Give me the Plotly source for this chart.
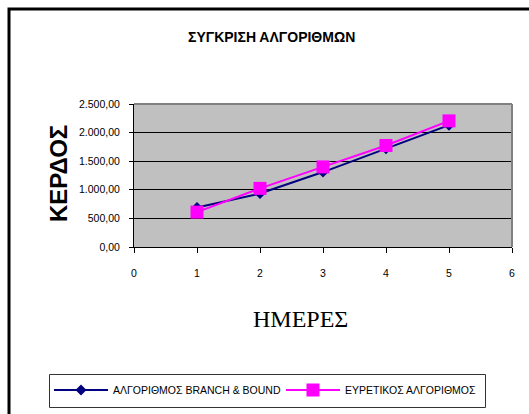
import plotly.graph_objects as go

# Days and profit for the two algorithms
days = [1, 2, 3, 4, 5]
branch_bound = [690, 935, 1310, 1720, 2130]
heuristic = [610, 1025, 1400, 1775, 2205]

series_names = ["ΑΛΓΟΡΙΘΜΟΣ BRANCH & BOUND", "ΕΥΡΕΤΙΚΟΣ ΑΛΓΟΡΙΘΜΟΣ"]
chart_title = "ΣΥΓΚΡΙΣΗ ΑΛΓΟΡΙΘΜΩΝ"
x_title = "ΗΜΕΡΕΣ"
y_title = "ΚΕΡΔΟΣ"

W, H = 529, 414
# plot area in pixels
PL, PR, PT, PB = 134, 512, 104, 247


def px(x):
    return (x - PL) / (PR - PL)


def py(y):
    return (PB - y) / (PB - PT)


fig = go.Figure()
fig.add_trace(go.Scatter(
    x=days, y=branch_bound, name=series_names[0], mode="lines+markers",
    line=dict(color="#000080", width=2),
    marker=dict(symbol="diamond", size=8.5, color="#000080"),
))
fig.add_trace(go.Scatter(
    x=days, y=heuristic, name=series_names[1], mode="lines+markers",
    line=dict(color="#FF00FF", width=2),
    marker=dict(symbol="square", size=13, color="#FF00FF"),
))

font = "Arial, Liberation Sans, sans-serif"

fig.update_layout(
    width=W, height=H,
    margin=dict(l=PL, r=W - PR, t=PT, b=H - PB, pad=0, autoexpand=False),
    paper_bgcolor="white",
    plot_bgcolor="#C0C0C0",
    separators=",.",
    font=dict(family=font, size=11, color="black"),
    showlegend=True,
    legend=dict(
        orientation="h", x=px(49), y=py(390), xanchor="left", yanchor="middle",
        borderwidth=0, bgcolor="rgba(0,0,0,0)",
        font=dict(family=font, size=10.5, color="black"),
        entrywidth=163, itemwidth=54, tracegroupgap=0,
    ),
    xaxis=dict(
        range=[0, 6], dtick=1, tick0=0, showgrid=False, zeroline=False,
        showline=True, linecolor="black", linewidth=1,
        ticks="outside", ticklen=5, tickcolor="black", ticklabelstandoff=11,
        tickfont=dict(size=10.5),
    ),
    yaxis=dict(
        range=[0, 2500], dtick=500, tick0=0, tickformat=",.2f",
        showgrid=True, gridcolor="black", gridwidth=1, zeroline=False,
        showline=True, linecolor="black", linewidth=1,
        ticks="outside", ticklen=4, tickcolor="black", ticklabelstandoff=7,
        tickfont=dict(size=10.5),
    ),
    annotations=[
        dict(text="<b>" + chart_title + "</b>", x=px(271), y=py(37),
             xref="paper", yref="paper", showarrow=False,
             xanchor="center", yanchor="middle",
             font=dict(family=font, size=14, color="black")),
        dict(text=x_title, x=px(300), y=py(319),
             xref="paper", yref="paper", showarrow=False,
             xanchor="center", yanchor="middle",
             font=dict(family="Times New Roman, Liberation Serif, serif", size=24, color="black")),
        dict(text="<b>" + y_title + "</b>", x=px(58), y=py(174),
             xref="paper", yref="paper", showarrow=False, textangle=-90,
             xanchor="center", yanchor="middle",
             font=dict(family=font, size=24, color="black")),
    ],
    shapes=[
        # chart frame
        dict(type="rect", xref="paper", yref="paper",
             x0=px(9), x1=px(533), y0=py(9), y1=py(418),
             line=dict(color="black", width=3), fillcolor="rgba(0,0,0,0)"),
        # legend box
        dict(type="rect", xref="paper", yref="paper",
             x0=px(49.5), x1=px(485.5), y0=py(374.5), y1=py(407.5),
             line=dict(color="#333333", width=1), fillcolor="rgba(0,0,0,0)"),
        # plot area border (top and right)
        dict(type="line", xref="paper", yref="paper", x0=0, x1=1, y0=1, y1=1,
             line=dict(color="#808080", width=2)),
        dict(type="line", xref="paper", yref="paper", x0=1, x1=1, y0=0, y1=1,
             line=dict(color="#808080", width=2)),
    ],
)

fig.write_html("out.html")
